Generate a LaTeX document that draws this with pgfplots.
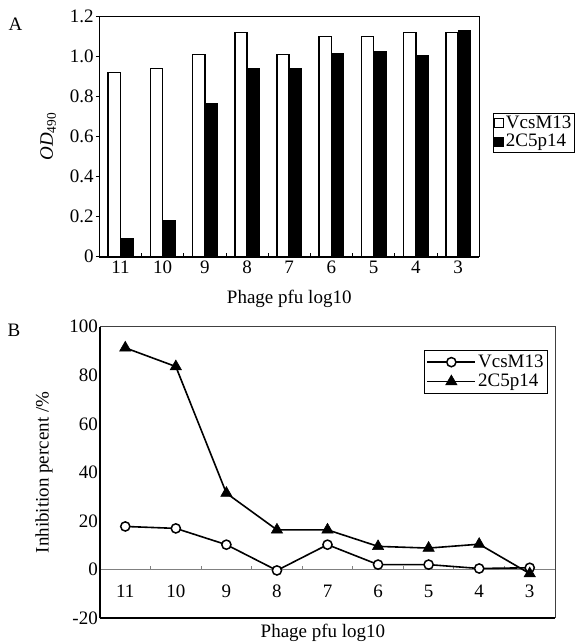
\documentclass[border=0pt]{standalone}
\usepackage{pgfplots}
\pgfplotsset{compat=1.18}
\usepackage{fontspec}
\setmainfont{Liberation Serif}
\pgfplotsset{every axis/.append style={font=\fontsize{19}{22}\selectfont},
  every tick label/.append style={font=\fontsize{19}{22}\selectfont}}

\begin{document}
\fontsize{19}{22}\selectfont
\begin{tikzpicture}[font=\fontsize{19}{22}\selectfont]
\useasboundingbox (0pt,0pt) rectangle (577pt,-644pt);
\node at (15.5pt,-24pt) {A};
\node at (14pt,-330pt) {B};

% panel A: OD490
\begin{axis}[
  at={(99.4pt,-256.7pt)}, anchor=south west,
  scale only axis, width=379.7pt, height=240pt, clip=false,
  ybar=0pt, bar width=12.3pt,
  xmin=0.5, xmax=9.5, ymin=0, ymax=1.2,
  xtick={1,2,3,4,5,6,7,8,9}, xticklabels={11,10,9,8,7,6,5,4,3},
  minor xtick={1.5,2.5,3.5,4.5,5.5,6.5,7.5,8.5},
  ytick={0,0.2,0.4,0.6,0.8,1.0,1.2}, yticklabels={0,0.2,0.4,0.6,0.8,1.0,1.2},
  tick pos=left,
  xtick align=inside, ytick align=outside,
  major tick length=3.5pt, minor tick length=4pt,
  major x tick style={draw=none},
  tick style={black, line width=0.8pt},
  axis line style={line width=0.9pt},
  yticklabel style={inner sep=2pt},
  xticklabel style={inner sep=4pt},
  xlabel={Phage pfu log10},
  xlabel style={at={(axis description cs:0.5,-0.176)}, anchor=center},
  ylabel={\textit{OD}\textsubscript{490}},
  ylabel style={at={(axis description cs:-0.135,0.5)}, anchor=center},
  legend style={at={(axis description cs:1.0366,0.5175)}, anchor=west,
    draw=black, line width=0.8pt, inner sep=1pt, row sep=0pt,
    nodes={inner sep=1.5pt}},
  legend cell align=left,
  legend image code/.code={\draw[#1,line width=1.1pt] (0pt,-4.5pt) rectangle (9pt,4.5pt);},
]
\addplot[draw=black, fill=white, line width=1.6pt] coordinates {
  (1,0.92) (2,0.94) (3,1.01) (4,1.12) (5,1.01) (6,1.10) (7,1.10) (8,1.12) (9,1.12)};
\addplot[draw=black, fill=black, line width=0.5pt] coordinates {
  (1,0.09) (2,0.18) (3,0.765) (4,0.94) (5,0.94) (6,1.015) (7,1.025) (8,1.005) (9,1.13)};
\legend{VcsM13,2C5p14}
\draw[line width=1.8pt] (rel axis cs:0,0) -- (rel axis cs:1,0);
\end{axis}

% panel B: inhibition percent
\begin{axis}[
  at={(100pt,-618.3pt)}, anchor=south west,
  scale only axis, width=455pt, height=291.6pt, clip=false,
  xmin=0.5, xmax=9.5, ymin=-20, ymax=100,
  axis x line*=middle, axis y line*=left,
  x axis line style={gray, line width=0.9pt, -},
  y axis line style={black, line width=1.6pt, -},
  xtick={1,2,3,4,5,6,7,8,9}, xticklabels={11,10,9,8,7,6,5,4,3},
  minor xtick={1.5,2.5,3.5,4.5,5.5,6.5,7.5,8.5},
  ytick={-20,0,20,40,60,80,100}, yticklabels={-20,0,20,40,60,80,100},
  xtick align=inside,
  major tick length=0pt, minor tick length=3.5pt,
  minor x tick style={gray, line width=0.8pt},
  major tick style={draw=none},
  yticklabel style={inner sep=2pt},
  xticklabel style={yshift=-9pt},
  xlabel={Phage pfu log10},
  xlabel style={at={(axis description cs:0.49,-0.05)}, anchor=center},
  ylabel={Inhibition percent /\%},
  ylabel style={at={(axis description cs:-0.123,0.5)}, anchor=center},
  legend style={at={(axis description cs:0.9846,0.92)}, anchor=north east,
    draw=black, line width=0.8pt, inner sep=2pt, row sep=0pt,
    nodes={inner sep=2pt}},
  legend cell align=left,
  legend image code/.code={\draw[mark repeat=2,mark phase=2,#1] plot coordinates {(0pt,0pt) (24pt,0pt) (48pt,0pt)};},
]
\addplot[black, line width=1.6pt, mark=*, mark size=4.6pt,
  mark options={fill=white, line width=1.5pt}] coordinates {
  (1,17.8) (2,17.0) (3,10.3) (4,-0.3) (5,10.3) (6,2.1) (7,2.1) (8,0.5) (9,0.8)};
\addplot[black, line width=1.6pt, mark=triangle*, mark size=6.5pt,
  mark options={fill=black, line width=0.6pt}] coordinates {
  (1,91.3) (2,83.6) (3,31.5) (4,16.4) (5,16.4) (6,9.6) (7,8.9) (8,10.5) (9,-1.6)};
\legend{VcsM13,2C5p14}
\draw[line width=0.9pt, black!75] (rel axis cs:0,1) -- (rel axis cs:1,1) -- (rel axis cs:1,0);
\draw[line width=1.8pt] (rel axis cs:0,0) -- (rel axis cs:1,0);
\end{axis}
\end{tikzpicture}
\end{document}
